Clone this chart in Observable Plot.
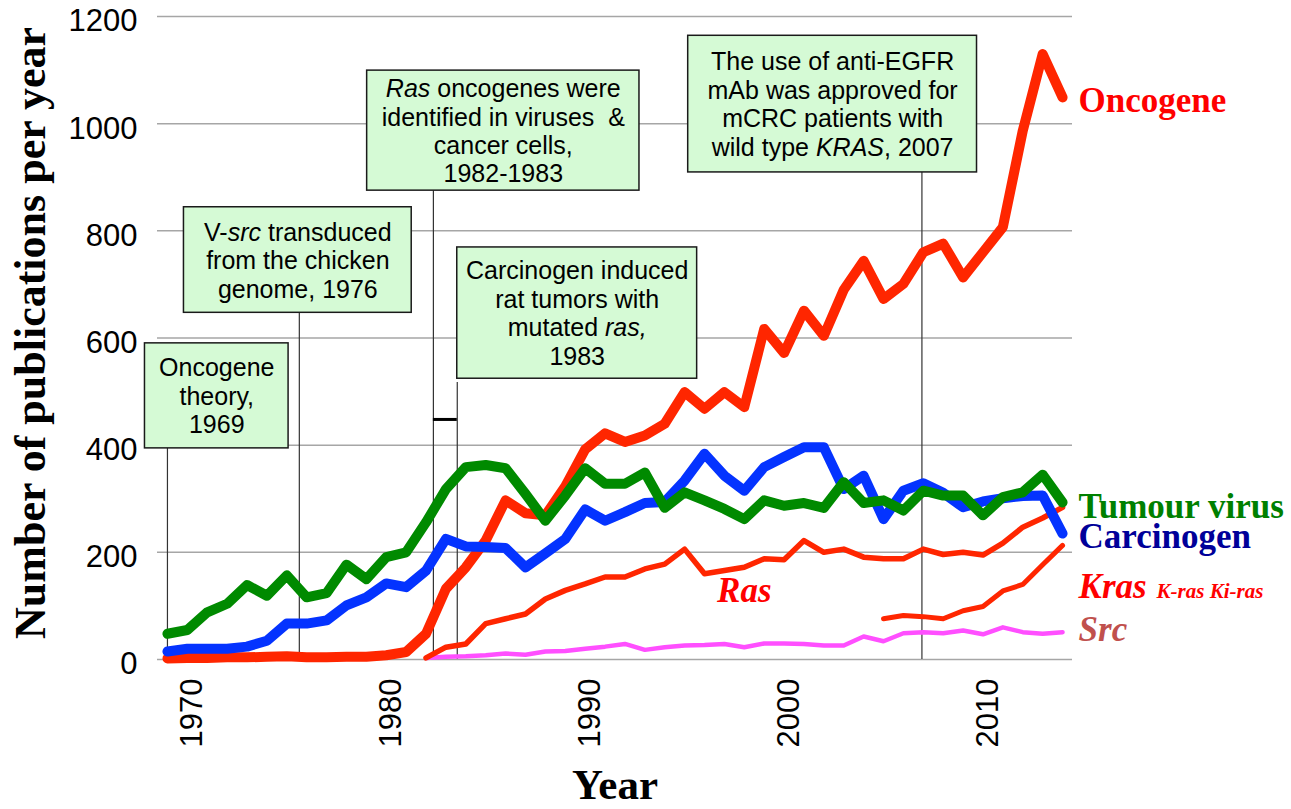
<!DOCTYPE html>
<html>
<head>
<meta charset="utf-8">
<script src="https://cdn.jsdelivr.net/npm/d3@7"></script>
<script src="https://cdn.jsdelivr.net/npm/@observablehq/plot@0.6"></script>
<style>
  html, body { margin: 0; padding: 0; background: #fff; }
</style>
</head>
<body>
<div id="chart"></div>
<script>
// ---------- data ----------
const years = [1969,1970,1971,1972,1973,1974,1975,1976,1977,1978,1979,1980,
  1981,1982,1983,1984,1985,1986,1987,1988,1989,1990,
  1991,1992,1993,1994,1995,1996,1997,1998,1999,2000,
  2001,2002,2003,2004,2005,2006,2007,2008,2009,2010,
  2011,2012,2013,2014];

const oncogene = [2,3,3,4,4,5,6,4,4,5,5,8,
  14,48,132,172,222,297,273,269,323,392,
  422,406,418,440,499,468,499,471,617,572,
  651,604,690,744,673,701,760,776,713,760,
  807,987,1130,1049];

const tumourVirus = [48,55,88,104,139,119,157,116,124,177,150,191,
  200,256,318,359,363,357,309,259,306,357,
  328,328,349,283,312,297,281,262,297,287,
  292,283,331,292,297,278,315,306,306,269,
  303,312,345,293];

const carcinogen = [15,20,20,20,24,35,67,67,73,101,116,142,
  135,166,225,211,210,208,172,198,225,280,
  259,275,292,294,334,384,343,315,359,378,
  396,396,318,343,262,315,329,311,284,295,
  301,305,306,235];

const ras = [null,null,null,null,null,null,null,null,null,null,null,null,
  null,3,23,29,67,76,85,113,129,141,
  154,154,169,178,206,160,166,172,188,186,
  222,200,206,191,188,188,206,196,200,195,
  217,247,264,284];

const kras = [null,null,null,null,null,null,null,null,null,null,null,null,
  null,null,null,null,null,null,null,null,null,null,
  null,null,null,null,null,null,null,null,null,null,
  null,null,null,null,76,82,80,76,91,99,
  128,140,177,213];

const src = [null,null,null,null,null,null,null,null,null,null,null,null,
  null,3,5,6,8,11,9,15,16,20,
  24,29,18,23,26,27,29,23,30,30,
  29,26,26,43,34,49,51,49,54,47,
  60,51,48,51];

const yTicks = [0, 200, 400, 600, 800, 1000, 1200];
const xTicks = [1970, 1980, 1990, 2000, 2010];

// series labels (text, baseline value, colour, italic)
const labelText = ["Oncogene", "Tumour virus", "Carcinogen", "Kras", "Src"];
const labelValue = [1022, 265, 208, 114, 34];
const labelColor = ["#ff0000", "#008000", "#000099", "#ff0000", "#c0504d"];
const labelItalic = [false, false, false, true, true];
const krasAlias = "K-ras Ki-ras";
const rasLabel = {text: "Ras", year: 1998, value: 108};

// event annotations
const eventYear = [1969, 1975.63, 1982.37, 1983.57, 2006.93];
const eventTop = [394, 647, 875, 517, 909];
const boxText = [
  "Oncogene\ntheory,\n1969",
  "V-*src* transduced\nfrom the chicken\ngenome, 1976",
  "*Ras* oncogenes were\nidentified in viruses  &\ncancer cells,\n1982-1983",
  "Carcinogen induced\nrat tumors with\nmutated *ras,*\n1983",
  "The use of anti-EGFR\nmAb was approved for\nmCRC patients with\nwild type *KRAS*, 2007"
];
const boxLeft = [1967.87, 1969.83, 1979.04, 1983.57, 1995.18];
const boxRight = [1975.09, 1981.28, 1992.73, 1995.63, 2009.70];
const boxTop = [590, 844, 1099, 769, 1164];
const boxBottom = [394, 647, 875, 524, 909];
const bracketValue = 448; // short black bar between the 1982 and 1983 lines

// ---------- build ----------
const rows = vals => years.map((year, i) => ({year, value: vals[i]}));
const events = eventYear.map((x, i) => ({x, top: eventTop[i]}));
const boxes = boxText.map((text, i) => ({text, x1: boxLeft[i], x2: boxRight[i], y1: boxBottom[i], y2: boxTop[i]}));
const labels = labelText.map((text, i) => ({text, value: labelValue[i], color: labelColor[i], italic: labelItalic[i]}));

const serif = "'Liberation Serif', 'Times New Roman', serif";
const lineOpts = (color, w) => ({x: "year", y: "value", stroke: color, strokeWidth: w, strokeLinejoin: "round", strokeLinecap: "round"});
const labelOpts = italic => ({x: () => 2014, y: "value", text: "text", fill: "color", dx: 16, textAnchor: "start", lineAnchor: "bottom",
  fontFamily: serif, fontWeight: "bold", fontSize: 35, fontStyle: italic ? "italic" : "normal"});

const chart = Plot.plot({
  width: 1291,
  height: 809,
  marginTop: 16,
  marginBottom: 150,
  marginLeft: 157,
  marginRight: 219,
  style: {fontFamily: "'Liberation Sans', Arial, sans-serif", background: "#fff", overflow: "visible", color: "#000"},
  x: {type: "linear", domain: [1968.5, 2014.5]},
  y: {domain: [0, 1200]},
  marks: [
    Plot.ruleY(yTicks, {stroke: "#a6a6a6", strokeWidth: 1.5}),
    Plot.axisY({ticks: yTicks, tickSize: 0, tickPadding: 20, fontSize: 31, label: null, dy: 5, tickFormat: d => String(d)}),
    Plot.axisX({ticks: xTicks, tickSize: 0, tickPadding: 19, tickRotate: -90, fontSize: 31, label: null, dx: 5, tickFormat: d => String(d)}),
    Plot.ruleX(events, {x: "x", y1: 0, y2: "top", stroke: "#333", strokeWidth: 1.2}),
    Plot.ruleY([bracketValue], {x1: eventYear[2], x2: eventYear[3], stroke: "#000", strokeWidth: 3}),
    Plot.line(rows(src), lineOpts("#ff4fff", 4.5)),
    Plot.line(rows(kras), lineOpts("#ff2600", 5)),
    Plot.line(rows(ras), lineOpts("#ff2600", 5.5)),
    Plot.line(rows(oncogene), lineOpts("#ff2600", 10)),
    Plot.line(rows(carcinogen), lineOpts("#0433ff", 10)),
    Plot.line(rows(tumourVirus), lineOpts("#008a00", 10)),
    Plot.rect(boxes, {x1: "x1", x2: "x2", y1: "y1", y2: "y2", fill: "#d5fad5", stroke: "#1a1a1a", strokeWidth: 1.5}),
    Plot.text(boxes, {x: d => (d.x1 + d.x2) / 2, y: d => (d.y1 + d.y2) / 2, text: "text", fontSize: 25, lineHeight: 1.14, fill: "#000", ariaLabel: "notes"}),
    Plot.text(labels.filter(d => !d.italic), labelOpts(false)),
    Plot.text(labels.filter(d => d.italic), labelOpts(true)),
    Plot.text([krasAlias], {x: () => 2014, y: () => labelValue[3], text: d => d, fill: "#ff0000", dx: 94, textAnchor: "start", lineAnchor: "bottom",
      fontFamily: serif, fontWeight: "bold", fontStyle: "italic", fontSize: 21}),
    Plot.text([rasLabel], {x: "year", y: "value", text: "text", fill: "#ff0000", textAnchor: "middle", lineAnchor: "bottom",
      fontFamily: serif, fontWeight: "bold", fontStyle: "italic", fontSize: 35}),
    Plot.text(["Number of publications per year"], {frameAnchor: "left", dx: -127, dy: -5, rotate: -90, textAnchor: "middle", lineAnchor: "middle",
      fontFamily: serif, fontWeight: "bold", fontSize: 44, fill: "#000", ariaLabel: "ytitle"}),
    Plot.text(["Year"], {frameAnchor: "bottom", dy: 139, textAnchor: "middle", lineAnchor: "bottom",
      fontFamily: serif, fontWeight: "bold", fontSize: 43, fill: "#000", ariaLabel: "xtitle"})
  ]
});

// italic fragments marked with *...* inside the annotation texts
function applyItalics(root) {
  const walker = document.createTreeWalker(root, NodeFilter.SHOW_TEXT);
  const nodes = [];
  while (walker.nextNode()) if (walker.currentNode.nodeValue.includes("*")) nodes.push(walker.currentNode);
  for (const node of nodes) {
    const parts = node.nodeValue.split("*");
    const frag = document.createDocumentFragment();
    parts.forEach((p, i) => {
      if (!p) return;
      if (i % 2) {
        const t = document.createElementNS("http://www.w3.org/2000/svg", "tspan");
        t.setAttribute("font-style", "italic");
        t.textContent = p;
        frag.appendChild(t);
      } else frag.appendChild(document.createTextNode(p));
    });
    node.parentNode.replaceChild(frag, node);
  }
}
applyItalics(chart);
d3.select(chart).selectAll("g[aria-label=notes] text").style("white-space", "pre");

document.getElementById("chart").appendChild(chart);
</script>
</body>
</html>
